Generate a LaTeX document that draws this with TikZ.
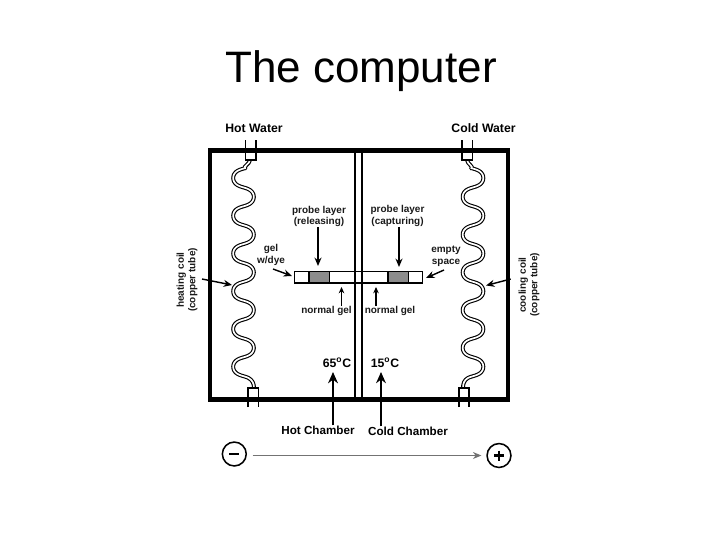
\documentclass[tikz,border=0pt]{standalone}
\usepackage{fontspec}
\setmainfont{Liberation Sans}
\usetikzlibrary{arrows.meta}
\tikzset{
  lab/.style={font=\bfseries\fontsize{7.1}{8.3}\selectfont,align=center,inner sep=0pt,text=black!90},
  biglab/.style={font=\bfseries\fontsize{8.7}{10}\selectfont,inner sep=0pt,text=black},
  chamlab/.style={font=\bfseries\fontsize{8.3}{10}\selectfont,inner sep=0pt,text=black},
  ptr/.style={-{Stealth[length=6pt,width=5pt]},line width=1pt},
  smallptr/.style={-{Stealth[length=4.5pt,width=4pt]},line width=.8pt},
  bigptr/.style={-{Stealth[length=8pt,width=7pt]}},
  coilout/.style={line width=2.8pt,line join=round},
  coilin/.style={white,line width=1.2pt,line join=round},
  pipe/.style={line width=.9pt},
  wall/.style={line width=.8pt},
  sign/.style={draw,circle,line width=1.1pt,minimum size=17pt,inner sep=0pt}
}
\begin{document}
\begin{tikzpicture}[x=.025cm,y=-.025cm,>=Stealth]
\useasboundingbox (0,0) rectangle (720,540);
\node[inner sep=0pt,anchor=base,font=\fontsize{31.3}{36}\selectfont] (title) at (361,82.3){The computer};
% chamber walls
\draw[wall] (355,150)--(355,400);\draw[wall] (362,150)--(362,400);
\draw[line width=3.3pt] (210,150.5) rectangle (508,399.5);
% coils
\foreach \xc/\sg/\xa/\xb/\nm in {243.5/-1/250/254/hot,473/1/467/463/cold}{
  \coordinate (\nm in) at (\xa,160);\coordinate (\nm out) at (\xb,388);
  \foreach \st in {coilout,coilin}{
    \draw[\st] (\nm in) to[out=-90,in={90-\sg*75}] ({\xc-\sg*1.8},168.4) -- plot[domain=-100:1920,samples=300,smooth] ({\xc+\sg*10.3*cos(\x)},{178+.10486*\x+1.5*sin(2*\x)}) to[out={90+\sg*120},in=90] (\nm out);
  }
}
% pipes
\draw[pipe] (245.5,140)--(245.5,160)--(256,160)--(256,140);
\draw[pipe] (248,407)--(248,388)--(258.5,388)--(258.5,407);
\draw[pipe] (462,140)--(462,160)--(472.5,160)--(472.5,140);
\draw[pipe] (459,407)--(459,388)--(469,388)--(469,407);
% gel bar
\draw[line width=1pt,fill=white] (294.5,271.5) rectangle (422.5,283);
\draw[wall] (355,271.5)--(355,283);\draw[wall] (362,271.5)--(362,283);
\draw[line width=1pt,fill=black!45] (309,271.5) rectangle (329.5,283);
\draw[line width=1pt,fill=black!45] (388,271.5) rectangle (408.5,283);
% labels
\node[biglab] (hotwater) at (254,128){Hot Water};
\node[biglab] (coldwater) at (483.5,128){Cold Water};
\node[lab] (relprobe) at (319,216.5){probe layer\\(releasing)};
\node[lab] (capprobe) at (397.5,216){probe layer\\(capturing)};
\node[lab] (geldye) at (271,255){gel\\w/dye};
\node[lab] (emptysp) at (446,256){empty\\space};
\node[lab,rotate=90] (heatcoil) at (187,280){heating coil\\(copper tube)};
\node[lab,rotate=90] (coolcoil) at (529,285){cooling coil\\(copper tube)};
\node[lab] (normala) at (326.5,311){normal gel};
\node[lab] (normalb) at (390,311){normal gel};
\node[biglab] (hotdeg) at (337,363){65$^{\mathbf{o}}$C};
\node[biglab] (colddeg) at (385,363){15$^{\mathbf{o}}$C};
\node[chamlab] (hotch) at (318,430){Hot Chamber};
\node[chamlab] (coldch) at (408,431){Cold Chamber};
\node[sign] (minus) at (234.3,454){};
\node[sign] (plus) at (499,455.5){};
\draw[line width=1.6pt] (minus.center)++(-5,0)--++(10,0);
\draw[line width=1.6pt] (plus.center)++(-5,0)--++(10,0);\draw[line width=1.6pt] (plus.center)++(0,-5)--++(0,10);
% pointers
\coordinate (relt) at (318,266);\coordinate (capt) at (399,267);
\coordinate (geltip) at (292,276);\coordinate (emptytip) at (426,278);
\coordinate (heattip) at (232,285);\coordinate (cooltip) at (486,285.5);
\coordinate (normaltipa) at (341.5,287);\coordinate (normaltipb) at (376,287);
\coordinate (hottip) at (333,372);\coordinate (coldtip) at (381,372);
\draw[ptr] (relprobe.south-|relt)--(relt);
\draw[ptr] (capprobe.south-|capt)--(capt);
\draw[ptr] (273,269)--(geltip);
\draw[ptr] (444,270)--(emptytip);
\draw[ptr] (202,279)--(heattip);
\draw[ptr] (510.7,279)--(cooltip);
\draw[smallptr] (normaltipa|-normala.north)--(normaltipa);
\draw[smallptr] (normaltipb|-normalb.north)--(normaltipb);
\draw[bigptr,line width=1.5pt] (hottip|-hotch.north)--(hottip);
\draw[bigptr,line width=1pt] (coldtip|-coldch.north)--(coldtip);
\draw[-{Stealth[length=6pt,width=5pt]},line width=.7pt,black!55,shorten <=4pt,shorten >=3.5pt] (minus.east|-plus.west)--(plus.west);
\end{tikzpicture}
\end{document}
